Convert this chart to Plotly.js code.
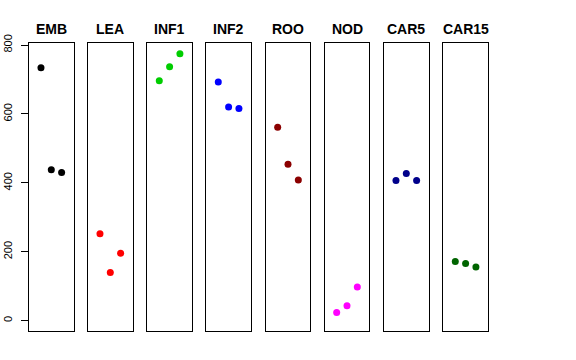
<!DOCTYPE html>
<html>
<head>
<meta charset="utf-8">
<script src="https://cdn.plot.ly/plotly-3.0.1.min.js"></script>
<style>html,body{margin:0;padding:0;background:#fff;}#chart{width:576px;height:360px;}</style>
</head>
<body>
<div id="chart"></div>
<script>
// Data
var categories = ["EMB", "LEA", "INF1", "INF2", "ROO", "NOD", "CAR5", "CAR15"];
var replicate = [1, 2, 3];
var valEMB   = [734, 438, 430];
var valLEA   = [252, 140, 196];
var valINF1  = [696, 737, 775];
var valINF2  = [693, 620, 616];
var valROO   = [561, 454, 408];
var valNOD   = [24, 43, 98];
var valCAR5  = [407, 427, 407];
var valCAR15 = [172, 166, 156];
var seriesValues = [valEMB, valLEA, valINF1, valINF2, valROO, valNOD, valCAR5, valCAR15];
var colors = ["#000000", "#FF0000", "#00CD00", "#0000FF", "#8B0000", "#FF00FF", "#00008B", "#006400"];
var yTickVals = [0, 200, 400, 600, 800];

var W = 576, H = 360;
var panelLeft = [29, 88, 147.3, 206.3, 265.7, 324.7, 384, 443.3];
var panelWidth = 44.6;
var yTop = 43.3, yBottom = 331;

var data = [];
var layout = {
  width: W, height: H,
  margin: {l: 0, r: 0, t: 0, b: 0},
  paper_bgcolor: "#fff", plot_bgcolor: "#fff",
  showlegend: false,
  font: {family: "Liberation Sans, Arial, sans-serif", color: "#000"},
  annotations: []
};

for (var i = 0; i < categories.length; i++) {
  var sfx = i === 0 ? "" : String(i + 1);
  data.push({
    type: "scatter", mode: "markers",
    x: replicate, y: seriesValues[i],
    xaxis: "x" + sfx, yaxis: "y" + sfx,
    marker: {color: colors[i], size: 7},
    hoverinfo: "skip"
  });
  layout["xaxis" + sfx] = {
    domain: [panelLeft[i] / W, (panelLeft[i] + panelWidth) / W],
    range: [-0.16, 4.16],
    anchor: "y" + sfx,
    showgrid: false, zeroline: false, showticklabels: false, ticks: "",
    showline: true, mirror: true, linecolor: "#000", linewidth: 1
  };
  var ya = {
    domain: [1 - yBottom / H, 1 - yTop / H],
    range: [-30, 805],
    anchor: "x" + sfx,
    showgrid: false, zeroline: false,
    showline: true, mirror: true, linecolor: "#000", linewidth: 1
  };
  if (i === 0) {
    ya.tickvals = yTickVals;
    ya.ticktext = yTickVals.map(String);
    ya.ticks = "outside";
    ya.ticklen = 7;
    ya.tickcolor = "#000";
    ya.tickangle = -90;
    ya.ticklabelstandoff = 5;
    ya.tickfont = {size: 11, color: "#000"};
    ya.showticklabels = true;
  } else {
    ya.showticklabels = false;
    ya.ticks = "";
  }
  layout["yaxis" + sfx] = ya;
  layout.annotations.push({
    text: categories[i],
    xref: "x" + sfx + " domain", x: 0.5,
    yref: "paper", y: 1 - 29 / H,
    xanchor: "center", yanchor: "middle",
    showarrow: false,
    font: {size: 14, weight: "bold", color: "#000"}
  });
}

Plotly.newPlot("chart", data, layout, {staticPlot: true, displayModeBar: false});
</script>
</body>
</html>
